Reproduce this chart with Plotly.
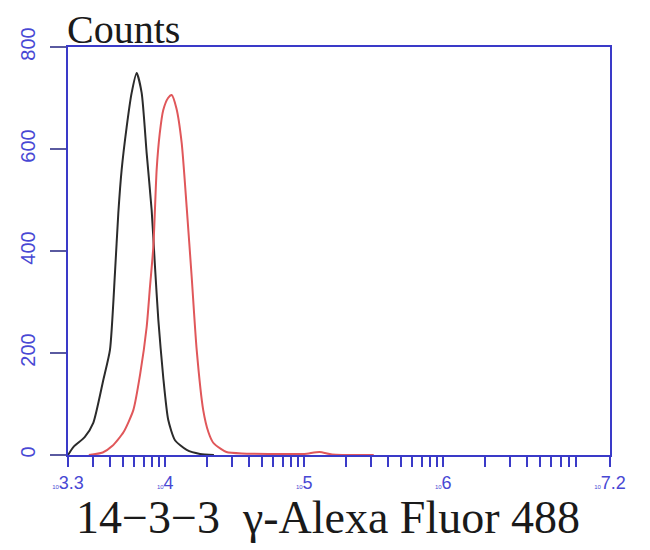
import plotly.graph_objects as go

# ---- data (log10 fluorescence, counts) ----
black_logx = [3.30, 3.34, 3.42, 3.482, 3.554, 3.602, 3.638, 3.662, 3.686, 3.722, 3.758,
              3.794, 3.83, 3.866, 3.902, 3.926, 3.95, 3.985, 4.021, 4.07, 4.154, 4.25, 4.35]
black_counts = [0, 16, 35, 63, 147, 206, 357, 474, 559, 643, 710,
                749, 710, 592, 480, 369, 265, 153, 69, 29, 10, 2, 0]

red_logx = [3.45, 3.55, 3.62, 3.70, 3.77, 3.82, 3.866, 3.89, 3.914, 3.938, 3.96, 3.985,
            4.02, 4.046, 4.08, 4.118, 4.154, 4.19, 4.226, 4.273, 4.31, 4.345, 4.40, 4.44,
            4.55, 4.8, 5.0, 5.11, 5.2, 5.5]
red_counts = [0, 5, 18, 45, 88, 160, 251, 330, 408, 560, 630, 676,
              700, 706, 680, 612, 486, 349, 206, 88, 45, 24, 12, 6,
              3, 2, 2, 6, 1, 0]

y_ticks = [0, 200, 400, 600, 800]
x_range_log = [3.3, 7.2]
x_major_exps = ["3.3", "4", "5", "6", "7.2"]
x_major_vals = [10 ** 3.3, 1e4, 1e5, 1e6, 10 ** 7.2]

# minor tick positions (2..9 x decade)
minor_vals = []
for dec in [1e3, 1e4, 1e5, 1e6]:
    for m in range(2, 10):
        v = m * dec
        if x_major_vals[0] < v < x_major_vals[-1]:
            minor_vals.append(v)

tickvals = x_major_vals + minor_vals
ticktext = ["<span style='font-size:6px'>10</span>" + e for e in x_major_exps] + [""] * len(minor_vals)

AX = "#3a3ac8"
LAB = "#4848d4"

fig = go.Figure()
fig.add_trace(go.Scatter(x=[10 ** v for v in black_logx], y=black_counts, mode="lines",
                         line=dict(color="#2b2b2b", width=2, shape="spline", smoothing=0.6),
                         showlegend=False))
fig.add_trace(go.Scatter(x=[10 ** v for v in red_logx], y=red_counts, mode="lines",
                         line=dict(color="#e0575a", width=2, shape="spline", smoothing=0.6),
                         showlegend=False))

# page has an 8px body margin, so the figure is 8px smaller and offsets are reduced by 8
fig.update_layout(
    width=642, height=542,
    margin=dict(l=60, r=40, t=39, b=95, autoexpand=False),
    paper_bgcolor="white", plot_bgcolor="white",
    xaxis=dict(type="log", range=x_range_log, showgrid=False, zeroline=False,
               automargin=False,
               showline=True, linecolor=AX, linewidth=2, mirror=True,
               ticks="outside", ticklen=10, tickwidth=2, tickcolor=AX,
               tickmode="array", tickvals=tickvals, ticktext=ticktext,
               tickfont=dict(family="Liberation Sans", size=18, color=LAB)),
    yaxis=dict(range=[0, 800], showgrid=False, zeroline=False,
               automargin=False,
               showline=True, linecolor=AX, linewidth=2, mirror=True,
               ticks="outside", ticklen=16, tickwidth=2, tickcolor="#5a5aa0",
               tickmode="array", tickvals=y_ticks, tickangle=-90,
               ticklabelstandoff=7,
               tickfont=dict(family="Liberation Sans", size=20, color=LAB)),
    annotations=[
        dict(text="Counts", xref="paper", yref="paper", x=-3 / 542, y=1 + (39 - 22) / 408,
             xanchor="left", yanchor="middle", showarrow=False,
             font=dict(family="Liberation Serif", size=40, color="#1a1a1a")),
        dict(text="14\u22123\u22123  \u03b3-Alexa Fluor 488", xref="paper", yref="paper",
             x=(320 - 60) / 542, y=(447 - 510) / 408, xanchor="center", yanchor="middle",
             showarrow=False,
             font=dict(family="Liberation Serif", size=46, color="#1a1a1a")),
    ],
)

fig.write_html("out.html")
